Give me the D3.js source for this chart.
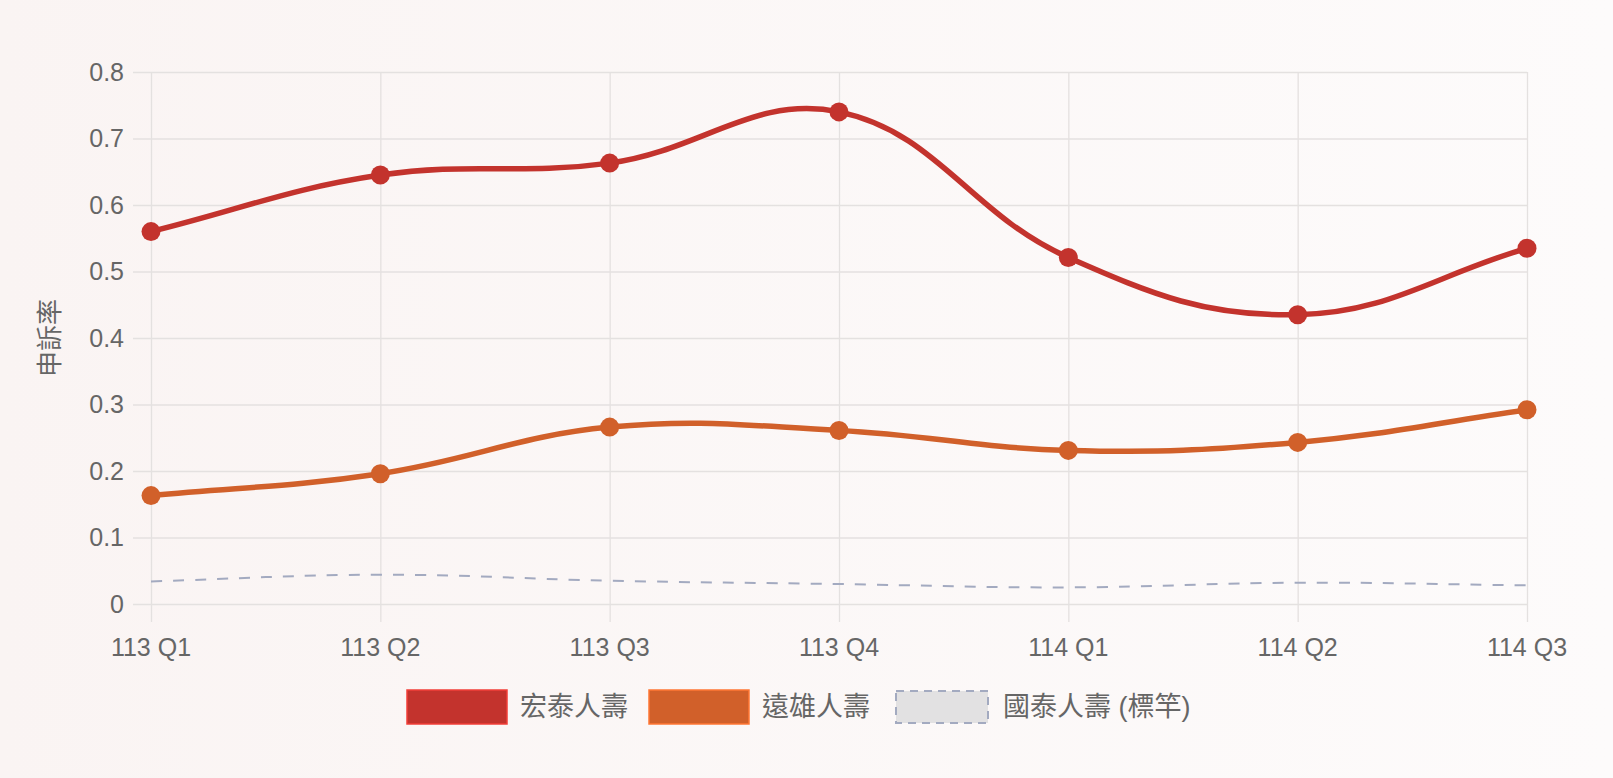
<!DOCTYPE html>
<html>
<head>
<meta charset="utf-8">
<script src="https://cdn.jsdelivr.net/npm/d3@7"></script>
<style>
  body { margin: 0; background: #fcf9f8; }
  svg { display: block; font-family: "Liberation Sans", Arial, "Noto Sans CJK TC", sans-serif; }
</style>
</head>
<body>
<script>
const quarters = ["113 Q1", "113 Q2", "113 Q3", "113 Q4", "114 Q1", "114 Q2", "114 Q3"];
const hongtai = [0.560, 0.645, 0.663, 0.740, 0.521, 0.435, 0.535];
const farglory = [0.163, 0.196, 0.266, 0.261, 0.231, 0.243, 0.292];
const cathay = [0.034, 0.044, 0.035, 0.030, 0.025, 0.032, 0.028];
const yTicks = [0, 0.1, 0.2, 0.3, 0.4, 0.5, 0.6, 0.7, 0.8];

const W = 1613;
const H = 778;
const L = 151, R = 1527, T = 72, B = 604;
const textColor = "#666";
const gridColor = "#e4e1e0";

const series = [
  { name: "宏泰人壽", values: hongtai, color: "#c3332d", width: 5.5, dash: null, dots: true },
  { name: "遠雄人壽", values: farglory, color: "#d1602a", width: 5.5, dash: null, dots: true },
  { name: "國泰人壽 (標竿)", values: cathay, color: "#a3aac0", width: 2, dash: "11,11", dots: false }
];

const svg = d3.select("body")
  .append("svg")
  .attr("width", W)
  .attr("height", H);

const defs = svg.append("defs");
const bg = defs.append("linearGradient").attr("id", "bg")
  .attr("x1", 0).attr("y1", 0).attr("x2", 1).attr("y2", 0);
bg.append("stop").attr("offset", 0).attr("stop-color", "#faf4f3");
bg.append("stop").attr("offset", 1).attr("stop-color", "#fdfbfb");
svg.append("rect").attr("width", W).attr("height", H).attr("fill", "url(#bg)");

const x = d3.scalePoint().domain(quarters).range([L, R]);
const y = d3.scaleLinear().domain([0, 0.8]).range([B, T]);

// grid + tick marks (grid lines run past the axis like chart.js)
svg.append("g")
  .attr("transform", `translate(0,${T})`)
  .call(d3.axisBottom(x).tickSize(B - T + 18).tickSizeOuter(0).tickFormat(""))
  .call(g => g.select(".domain").remove())
  .call(g => g.selectAll("line").attr("stroke", gridColor).attr("stroke-width", 1.3));

svg.append("g")
  .attr("transform", `translate(${R},0)`)
  .call(d3.axisLeft(y).tickValues(yTicks).tickSize(R - L + 18).tickFormat(""))
  .call(g => g.select(".domain").remove())
  .call(g => g.selectAll("line").attr("stroke", gridColor).attr("stroke-width", 1.3));

// tick labels
svg.append("g")
  .selectAll("text")
  .data(yTicks)
  .join("text")
  .attr("x", 124)
  .attr("y", d => y(d))
  .attr("dy", "0.35em")
  .attr("text-anchor", "end")
  .attr("fill", textColor)
  .style("font-size", "25px")
  .text(d => d === 0 ? "0" : d3.format(".1f")(d));

svg.append("g")
  .selectAll("text")
  .data(quarters)
  .join("text")
  .attr("x", d => x(d))
  .attr("y", 656)
  .attr("text-anchor", "middle")
  .attr("fill", textColor)
  .style("font-size", "25px")
  .text(d => d);

svg.append("text")
  .attr("transform", `translate(59,${(T + B) / 2}) rotate(-90)`)
  .attr("text-anchor", "middle")
  .attr("fill", textColor)
  .style("font-size", "26px")
  .text("申訴率");

// chart.js style spline (tension 0.4)
function ChartSpline(context) { this._context = context; }
ChartSpline.prototype = {
  areaStart() {}, areaEnd() {},
  lineStart() { this._pts = []; },
  point(px, py) { this._pts.push([+px, +py]); },
  lineEnd() {
    const p = this._pts, n = p.length, t = 0.4, ctx = this._context;
    const cps = p.map((cur, i) => {
      const prev = p[i - 1] || cur, next = p[i + 1] || cur;
      const d01 = Math.hypot(cur[0] - prev[0], cur[1] - prev[1]);
      const d12 = Math.hypot(next[0] - cur[0], next[1] - cur[1]);
      let s01 = d01 / (d01 + d12), s12 = d12 / (d01 + d12);
      if (isNaN(s01)) s01 = 0;
      if (isNaN(s12)) s12 = 0;
      const fa = t * s01, fb = t * s12;
      const clampY = v => Math.max(T, Math.min(B, v));
      return {
        prev: [cur[0] - fa * (next[0] - prev[0]), clampY(cur[1] - fa * (next[1] - prev[1]))],
        next: [cur[0] + fb * (next[0] - prev[0]), clampY(cur[1] + fb * (next[1] - prev[1]))]
      };
    });
    ctx.moveTo(p[0][0], p[0][1]);
    for (let i = 1; i < n; i++) {
      ctx.bezierCurveTo(cps[i - 1].next[0], cps[i - 1].next[1], cps[i].prev[0], cps[i].prev[1], p[i][0], p[i][1]);
    }
  }
};

const line = d3.line()
  .x((d, i) => x(quarters[i]))
  .y(d => y(d))
  .curve(ctx => new ChartSpline(ctx));

// benchmark first so it sits under the others
[series[2], series[1], series[0]].forEach(s => {
  svg.append("path")
    .datum(s.values)
    .attr("d", line)
    .attr("fill", "none")
    .attr("stroke", s.color)
    .attr("stroke-width", s.width)
    .attr("stroke-dasharray", s.dash)
    .attr("stroke-linejoin", "round");
  if (s.dots) {
    svg.append("g")
      .selectAll("circle")
      .data(s.values)
      .join("circle")
      .attr("cx", (d, i) => x(quarters[i]))
      .attr("cy", d => y(d))
      .attr("r", 9.5)
      .attr("fill", s.color);
  }
});

// legend
const legendX = [407, 649, 895];
const legend = svg.append("g");
series.forEach((s, i) => {
  const g = legend.append("g").attr("transform", `translate(${legendX[i]},690)`);
  if (s.dots) {
    g.append("rect").attr("width", 100).attr("height", 34).attr("fill", s.color)
      .attr("stroke", d3.color(s.color).brighter(0.6)).attr("stroke-width", 1.5);
  } else {
    g.append("rect").attr("x", 1).attr("y", 1).attr("width", 92).attr("height", 32)
      .attr("fill", "#e2e1e2").attr("stroke", s.color).attr("stroke-width", 2)
      .attr("stroke-dasharray", "8,6");
  }
  g.append("text")
    .attr("x", s.dots ? 113 : 108)
    .attr("y", 17)
    .attr("dy", "0.35em")
    .attr("fill", textColor)
    .style("font-size", "27px")
    .text(s.name);
});
</script>
</body>
</html>
